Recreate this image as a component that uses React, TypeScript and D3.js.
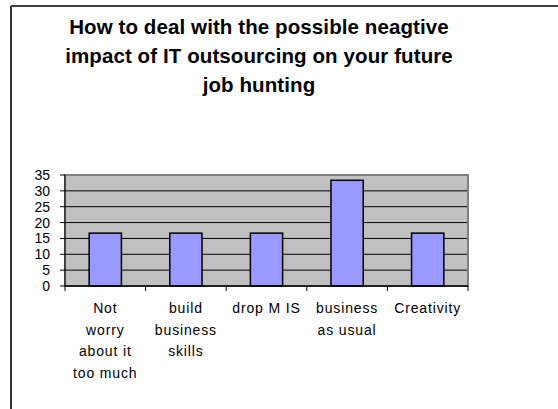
import React from "react";
import * as d3 from "d3";

const categories: string[][] = [
  ["Not", "worry", "about it", "too much"],
  ["build", "business", "skills"],
  ["drop M IS"],
  ["business", "as usual"],
  ["Creativity"],
];
const values: number[] = [16.67, 16.67, 16.67, 33.33, 16.67];
const yTicks: number[] = [0, 5, 10, 15, 20, 25, 30, 35];
const titleLines: string[] = [
  "How to deal with the possible neagtive",
  "impact of IT outsourcing on your future",
  "job hunting",
];

const W = 558;
const H = 409;
const plot = { left: 65, right: 468, top: 175, bottom: 286 };

export default function App() {
  const x = d3
    .scaleBand<number>()
    .domain(values.map((_, i) => i))
    .range([plot.left, plot.right])
    .paddingInner(0.6)
    .paddingOuter(0.3);
  const xb = d3
    .scaleBand<number>()
    .domain(values.map((_, i) => i))
    .range([plot.left, plot.right]);
  const y = d3.scaleLinear().domain([0, 35]).range([plot.bottom, plot.top]);
  const font = "'Liberation Sans', Arial, sans-serif";

  return (
    <svg
      width={W}
      height={H}
      style={{ position: "absolute", left: 0, top: 0, background: "#fff" }}
    >
      {/* outer frame (partially visible) */}
      <line x1={11} y1={6} x2={W + 5} y2={6} stroke="#000" strokeWidth={1.5} />
      <line x1={11} y1={6} x2={11} y2={H + 5} stroke="#333" strokeWidth={2} />

      {titleLines.map((t, i) => (
        <text
          key={i}
          x={259}
          y={33.5 + i * 29.3}
          textAnchor="middle"
          fontFamily={font}
          fontWeight="bold"
          fontSize={20.5}
          letterSpacing={0.1}
          fill="#000"
        >
          {t}
        </text>
      ))}

      {/* plot area */}
      <rect
        x={plot.left}
        y={plot.top}
        width={plot.right - plot.left}
        height={plot.bottom - plot.top}
        fill="#C0C0C0"
        stroke="#808080"
        strokeWidth={2}
      />
      {yTicks
        .filter((t) => t > 0 && t < 35)
        .map((t) => (
          <line
            key={t}
            x1={plot.left}
            x2={plot.right - 1}
            y1={y(t)}
            y2={y(t)}
            stroke="#000"
            strokeWidth={1}
          />
        ))}

      {values.map((v, i) => (
        <rect
          key={i}
          x={x(i)}
          y={y(v)}
          width={x.bandwidth()}
          height={y(0) - y(v)}
          fill="#9999FF"
          stroke="#000"
          strokeWidth={1.5}
        />
      ))}

      {/* y axis */}
      <line x1={plot.left} x2={plot.left} y1={plot.top} y2={plot.bottom} stroke="#000" strokeWidth={1} />
      {yTicks.map((t) => (
        <g key={t}>
          <line x1={plot.left - 5} x2={plot.left} y1={y(t)} y2={y(t)} stroke="#000" />
          <text
            x={plot.left - 15}
            y={y(t)}
            dy="0.36em"
            textAnchor="end"
            fontFamily={font}
            fontSize={14}
            fill="#000"
          >
            {t}
          </text>
        </g>
      ))}

      {/* x axis */}
      <line x1={plot.left} x2={plot.right} y1={plot.bottom} y2={plot.bottom} stroke="#000" strokeWidth={1.5} />
      {values.map((_, i) => (
        <line
          key={i}
          x1={(xb(i) as number) + xb.bandwidth()}
          x2={(xb(i) as number) + xb.bandwidth()}
          y1={plot.bottom}
          y2={plot.bottom + 5}
          stroke="#000"
        />
      ))}
      <line x1={plot.left} x2={plot.left} y1={plot.bottom} y2={plot.bottom + 5} stroke="#000" />
      {categories.map((lines, i) => (
        <text
          key={i}
          textAnchor="middle"
          fontFamily={font}
          fontSize={14}
          letterSpacing={0.85}
          fill="#000"
        >
          {lines.map((l, j) => (
            <tspan key={j} x={(xb(i) as number) + xb.bandwidth() / 2} y={313 + j * 21.7}>
              {l}
            </tspan>
          ))}
        </text>
      ))}
    </svg>
  );
}
